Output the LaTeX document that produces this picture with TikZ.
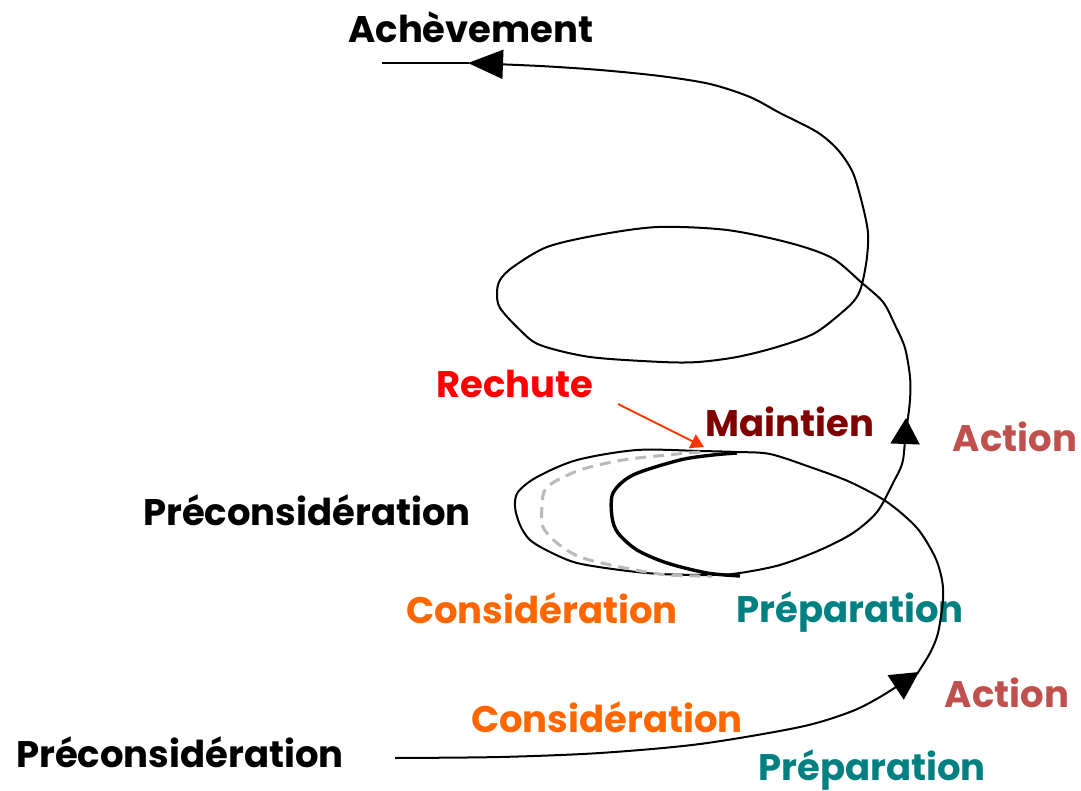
\documentclass[tikz,border=0pt]{standalone}
\usepackage{fontspec}
\setmainfont{Poppins}
\usetikzlibrary{arrows.meta}

\definecolor{actred}{HTML}{C0504D}
\definecolor{maroon}{HTML}{800000}
\definecolor{consorange}{HTML}{FF6600}
\definecolor{prepteal}{HTML}{008080}
\definecolor{relapsered}{HTML}{FF3300}

\begin{document}
\begin{tikzpicture}[x=1pt,y=-1pt,
	lbl/.style={font=\fontsize{37}{40}\selectfont\bfseries, anchor=base, inner sep=0pt},
	spiral/.style={line width=2pt, line join=round},
	bigtip/.style={-{Triangle[length=#1pt,width=29pt]}}]
	\useasboundingbox (0,0) rectangle (1081,791);

	% labels
	\node [lbl] (achev) at (471,43) {Achèvement};
	\node [lbl] (precons1) at (307,525) {Préconsidération};
	\node [lbl] (precons2) at (180,767) {Préconsidération};
	\node [lbl, red] (rechute) at (515,397) {Rechute};
	\node [lbl, maroon] (maintien) at (790,436) {Maintien};
	\node [lbl, actred] (action1) at (1015,451) {Action};
	\node [lbl, actred] (action2) at (1007,707) {Action};
	\node [lbl, consorange] (consid1) at (542,623) {Considération};
	\node [lbl, consorange] (consid2) at (607,732) {Considération};
	\node [lbl, prepteal] (prep1) at (850,622) {Préparation};
	\node [lbl, prepteal] (prep2) at (872,780) {Préparation};

	% spiral, lower part
	\draw [spiral, bigtip=28] plot [smooth, tension=0.5] coordinates {
		(395,758) (500,757) (600,753) (700,744) (800,727) (850,712) (880,697) (919,672)};
	\draw [spiral, bigtip=26] plot [smooth, tension=0.5] coordinates {
		(917,674) (930,653) (938,633) (943,600) (942,580) (935,557) (917,528) (887,502)
		(850,482) (810,467) (770,454) (737,452) (700,451) (637,450) (577,460) (537,477)
		(518,492) (515,507) (520,525) (530,540) (550,552) (577,563) (620,570) (660,574)
		(713,575) (740,573) (780,565) (820,550) (853,533) (877,512) (893,483) (903,460)
		(906,418)};
	% spiral, upper part
	\draw [spiral, bigtip=35] plot [smooth, tension=0.5] coordinates {
		(907,425) (910,400) (910,377) (905,348) (895,325) (883,302) (862,283) (832,258)
		(790,243) (727,230) (658,227) (598,235) (547,247) (513,267) (500,280) (497,293)
		(500,308) (520,330) (540,345) (590,357) (662,362) (698,362) (737,357) (777,347)
		(815,333) (847,308) (858,295) (863,280) (867,257) (868,233) (863,207) (853,173)
		(838,150) (817,132) (780,113) (750,97) (710,84) (660,76) (600,70) (540,66) (468,63)};
	\draw [spiral] (469,63) -- (382,63);

	% relapse loops
	\draw [line width=3pt, gray!55, dash pattern=on 11pt off 7pt] plot [smooth, tension=0.5] coordinates {
		(700,452) (667,455) (623,460) (580,470) (547,487) (542,507) (543,527) (557,543)
		(580,557) (620,567) (667,575) (712,576)};
	\draw [line width=3.4pt] plot [smooth, tension=0.5] coordinates {
		(737,453) (713,455) (680,460) (633,475) (613,493) (612,517) (618,533) (637,550)
		(667,563) (707,573) (740,576)};

	% relapse arrow
	\coordinate (r0) at (618,404);
	\coordinate (r1) at (704,447);
	\draw [relapsered, line width=2pt, -{Triangle[length=13pt,width=15pt]}] (r0) -- (r1);
\end{tikzpicture}
\end{document}
